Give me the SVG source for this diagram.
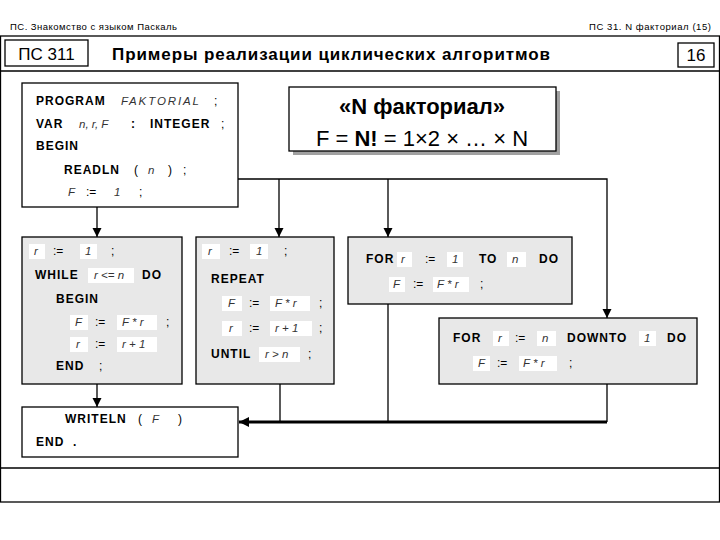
<svg xmlns="http://www.w3.org/2000/svg" width="720" height="540" viewBox="0 0 720 540">
<defs>
<style>
text{font-family:"Liberation Sans",Arial,sans-serif;fill:#000}
.hd{font-size:9.5px}
.k{font-size:12px;font-weight:bold;letter-spacing:1px}
.i{font-size:11.5px;font-style:italic;fill:#333}
.p{font-size:12px}
.box{fill:#fff;stroke:#000;stroke-width:1.3}
.gbox{fill:#e8e8e8;stroke:#000;stroke-width:1.3}
.hl{fill:#fff}
.ln{stroke:#000;stroke-width:1.3;fill:none}
.thick{stroke:#000;stroke-width:3;fill:none}
</style>
<marker id="ah" viewBox="0 0 10 10" refX="10" refY="5" markerWidth="9" markerHeight="10" markerUnits="userSpaceOnUse" orient="auto"><path d="M0,0 L10,5 L0,10 z" fill="#000"/></marker>
<marker id="ah2" viewBox="0 0 10 10" refX="10" refY="5" markerWidth="10" markerHeight="11" markerUnits="userSpaceOnUse" orient="auto"><path d="M0,0 L10,5 L0,10 z" fill="#000"/></marker>
</defs>
<rect width="720" height="540" fill="#fff"/>
<g id="header">
<text class="hd" x="10" y="30" textLength="167" lengthAdjust="spacing">ПС. Знакомство  с  языком  Паскаль</text>
<text class="hd" x="589" y="30" textLength="122" lengthAdjust="spacing">ПС 31. N  факториал  (15)</text>
<rect x="0.5" y="36" width="719" height="466" fill="none" stroke="#000" stroke-width="1.3"/>
<line x1="0" y1="71" x2="720" y2="71" stroke="#000" stroke-width="1.3"/>
<line x1="0" y1="468" x2="720" y2="468" stroke="#000" stroke-width="1.3"/>
<rect x="5" y="40" width="83" height="26" fill="#fff" stroke="#000" stroke-width="1.3"/>
<text x="46.5" y="60" text-anchor="middle" style="font-size:17px">ПС 311</text>
<text x="112" y="60" style="font-size:17px;font-weight:bold" textLength="438" lengthAdjust="spacing">Примеры  реализации  циклических  алгоритмов</text>
<rect x="678" y="43" width="36" height="24" fill="#fff" stroke="#000" stroke-width="1.3"/>
<text x="696" y="61" text-anchor="middle" style="font-size:17px">16</text>
</g>
<g id="connectors">
<line class="ln" x1="97" y1="207" x2="97" y2="237" marker-end="url(#ah)"/>
<polyline class="ln" points="238,179 607,179 607,318" marker-end="url(#ah)"/>
<line class="ln" x1="279" y1="179" x2="279" y2="237" marker-end="url(#ah)"/>
<line class="ln" x1="388" y1="179" x2="388" y2="237" marker-end="url(#ah)"/>
<line class="ln" x1="97" y1="384" x2="97" y2="407" marker-end="url(#ah)"/>
<line class="ln" x1="280" y1="384" x2="280" y2="422"/>
<line class="ln" x1="388" y1="304" x2="388" y2="422"/>
<line class="ln" x1="607" y1="384" x2="607" y2="422"/>
<line class="thick" x1="607" y1="422" x2="239" y2="422" marker-end="url(#ah2)"/>
</g>
<g id="program">
<rect class="box" x="22" y="83" width="216" height="124"/>
<text class="k" x="36" y="105">PROGRAM</text>
<text class="i" x="121" y="105" textLength="78">FAKTORIAL</text>
<text class="p" x="214" y="105">;</text>
<text class="k" x="36" y="128">VAR</text>
<text class="i" x="79" y="128">n, r, F</text>
<text class="k" x="131" y="128">:</text>
<text class="k" x="150" y="128">INTEGER</text>
<text class="p" x="221" y="128">;</text>
<text class="k" x="36" y="150">BEGIN</text>
<text class="k" x="64" y="174">READLN</text>
<text class="p" x="134" y="174">(</text>
<text class="i" x="148" y="174">n</text>
<text class="p" x="168" y="174">)</text>
<text class="p" x="183" y="174">;</text>
<text class="i" x="68" y="196">F</text>
<text class="p" x="86" y="196">:=</text>
<text class="i" x="114" y="196">1</text>
<text class="p" x="139" y="196">;</text>
</g>
<g id="formula">
<rect x="293" y="91" width="267" height="64" fill="#a0a0a0"/>
<rect class="box" x="289" y="87" width="267" height="64"/>
<text x="422" y="114" text-anchor="middle" style="font-size:22px;font-weight:bold">«N  факториал»</text>
<text x="422" y="146" text-anchor="middle" style="font-size:22px">F = <tspan font-weight="bold">N!</tspan> = 1×2 × … × N</text>
</g>
<g id="while">
<rect class="gbox" x="22" y="237" width="160" height="147"/>
<rect class="hl" x="29" y="244" width="16" height="15"/><text class="i" x="34" y="255">r</text>
<text class="p" x="53" y="255">:=</text>
<rect class="hl" x="80" y="244" width="17" height="15"/><text class="i" x="85" y="255">1</text>
<text class="p" x="111" y="255">;</text>
<text class="k" x="35" y="279">WHILE</text>
<rect class="hl" x="88" y="268" width="46" height="15"/><text class="i" x="94" y="279">r &lt;= n</text>
<text class="k" x="142" y="279">DO</text>
<text class="k" x="56" y="303">BEGIN</text>
<rect class="hl" x="70" y="315" width="18" height="15"/><text class="i" x="75" y="326">F</text>
<text class="p" x="95" y="326">:=</text>
<rect class="hl" x="117" y="315" width="40" height="15"/><text class="i" x="122" y="326">F * r</text>
<text class="p" x="166" y="326">;</text>
<rect class="hl" x="70" y="337" width="18" height="15"/><text class="i" x="76" y="348">r</text>
<text class="p" x="95" y="348">:=</text>
<rect class="hl" x="117" y="337" width="40" height="15"/><text class="i" x="122" y="348">r + 1</text>
<text class="k" x="56" y="370">END</text>
<text class="p" x="99" y="370">;</text>
</g>
<g id="repeat">
<rect class="gbox" x="196" y="237" width="138" height="147"/>
<rect class="hl" x="202" y="244" width="18" height="15"/><text class="i" x="208" y="255">r</text>
<text class="p" x="229" y="255">:=</text>
<rect class="hl" x="250" y="244" width="18" height="15"/><text class="i" x="256" y="255">1</text>
<text class="p" x="284" y="255">;</text>
<text class="k" x="211" y="283">REPEAT</text>
<rect class="hl" x="222" y="296" width="20" height="15"/><text class="i" x="228" y="307">F</text>
<text class="p" x="249" y="307">:=</text>
<rect class="hl" x="270" y="296" width="40" height="15"/><text class="i" x="275" y="307">F * r</text>
<text class="p" x="319" y="307">;</text>
<rect class="hl" x="222" y="321" width="20" height="15"/><text class="i" x="229" y="332">r</text>
<text class="p" x="249" y="332">:=</text>
<rect class="hl" x="270" y="321" width="42" height="15"/><text class="i" x="275" y="332">r + 1</text>
<text class="p" x="319" y="332">;</text>
<text class="k" x="211" y="358">UNTIL</text>
<rect class="hl" x="259" y="347" width="41" height="15"/><text class="i" x="265" y="358">r &gt; n</text>
<text class="p" x="308" y="358">;</text>
</g>
<g id="for">
<rect class="gbox" x="348" y="237" width="224" height="67"/>
<text class="k" x="366" y="263">FOR</text>
<rect class="hl" x="397" y="252" width="15" height="15"/><text class="i" x="401" y="263">r</text>
<text class="p" x="425" y="263">:=</text>
<rect class="hl" x="447" y="252" width="16" height="15"/><text class="i" x="452" y="263">1</text>
<text class="k" x="479" y="263">TO</text>
<rect class="hl" x="507" y="252" width="19" height="15"/><text class="i" x="512" y="263">n</text>
<text class="k" x="539" y="263">DO</text>
<rect class="hl" x="389" y="277" width="16" height="15"/><text class="i" x="393" y="288">F</text>
<text class="p" x="413" y="288">:=</text>
<rect class="hl" x="433" y="277" width="36" height="15"/><text class="i" x="437" y="288">F * r</text>
<text class="p" x="480" y="288">;</text>
</g>
<g id="downto">
<rect class="gbox" x="439" y="318" width="258" height="66"/>
<text class="k" x="453" y="342">FOR</text>
<rect class="hl" x="493" y="331" width="16" height="15"/><text class="i" x="498" y="342">r</text>
<text class="p" x="515" y="342">:=</text>
<rect class="hl" x="537" y="331" width="19" height="15"/><text class="i" x="542" y="342">n</text>
<text class="k" x="567" y="342">DOWNTO</text>
<rect class="hl" x="639" y="331" width="17" height="15"/><text class="i" x="644" y="342">1</text>
<text class="k" x="667" y="342">DO</text>
<rect class="hl" x="473" y="356" width="17" height="15"/><text class="i" x="478" y="367">F</text>
<text class="p" x="497" y="367">:=</text>
<rect class="hl" x="519" y="356" width="38" height="15"/><text class="i" x="523" y="367">F * r</text>
<text class="p" x="569" y="367">;</text>
</g>
<g id="writeln">
<rect class="box" x="22" y="407" width="216" height="50"/>
<text class="k" x="65" y="423">WRITELN</text>
<text class="p" x="138" y="423">(</text>
<text class="i" x="152" y="423">F</text>
<text class="p" x="178" y="423">)</text>
<text class="k" x="36" y="446">END</text>
<text class="k" x="73" y="446">.</text>
</g>
</svg>
